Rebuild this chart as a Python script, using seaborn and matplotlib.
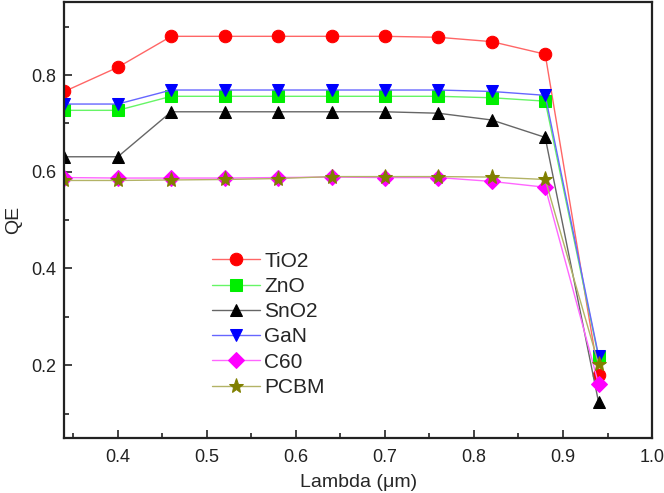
import numpy as np
import pandas as pd
import matplotlib
matplotlib.use('Agg')
import matplotlib.pyplot as plt
import matplotlib.colors as mcolors
import seaborn as sns
from matplotlib.ticker import MultipleLocator

sns.set_style('ticks')
plt.rcParams['font.family'] = ['Liberation Sans', 'DejaVu Sans']

# wavelength points (um)
wavelength = [0.34, 0.40, 0.46, 0.52, 0.58, 0.64, 0.70, 0.76, 0.82, 0.88, 0.94]

tio2 = [0.766, 0.816, 0.880, 0.880, 0.880, 0.880, 0.880, 0.878, 0.869, 0.843, 0.179]
zno = [0.727, 0.727, 0.756, 0.756, 0.756, 0.756, 0.756, 0.756, 0.753, 0.746, 0.216]
sno2 = [0.631, 0.631, 0.724, 0.724, 0.724, 0.724, 0.724, 0.721, 0.707, 0.671, 0.123]
gan = [0.740, 0.740, 0.769, 0.769, 0.769, 0.769, 0.769, 0.769, 0.766, 0.758, 0.219]
c60 = [0.588, 0.587, 0.587, 0.587, 0.588, 0.589, 0.588, 0.588, 0.580, 0.568, 0.161]
pcbm = [0.582, 0.582, 0.583, 0.584, 0.586, 0.590, 0.590, 0.590, 0.589, 0.584, 0.202]

materials = ['TiO2', 'ZnO', 'SnO2', 'GaN', 'C60', 'PCBM']
series = [tio2, zno, sno2, gan, c60, pcbm]
colors = ['#ff0000', '#00ee00', '#000000', '#0000ff', '#ff00ff', '#808000']
markers = ['o', 's', '^', 'v', 'D', '*']
sizes = [9, 8, 9, 9, 8, 11]


def lighten(c, amount=0.4):
    # blend colour with white so the connecting lines look pale like the original
    r, g, b = mcolors.to_rgb(c)
    return (r + (1 - r) * amount, g + (1 - g) * amount, b + (1 - b) * amount)


fig = plt.figure(figsize=(6.64, 4.93), dpi=100)
ax = fig.add_axes([0.097, 0.112, 0.885, 0.883])

for name, vals, c, m, s in zip(materials, series, colors, markers, sizes):
    df = pd.DataFrame({'Lambda': wavelength, 'QE': vals})
    sns.lineplot(data=df, x='Lambda', y='QE', ax=ax, color=c, marker=m,
                 markersize=s, markeredgecolor=c, linewidth=1, label=name)
    ln = ax.lines[-1]
    ln.set_color(lighten(c))
    ln.set_markerfacecolor(c)
    ln.set_markeredgecolor(c)
    ln.set_linewidth(1.0)

ax.set_xlim(0.34, 1.0)
ax.set_ylim(0.05, 0.95)
ax.xaxis.set_major_locator(MultipleLocator(0.1))
ax.xaxis.set_minor_locator(MultipleLocator(0.05))
ax.yaxis.set_major_locator(MultipleLocator(0.2))
ax.yaxis.set_minor_locator(MultipleLocator(0.1))
ax.tick_params(which='both', direction='in', top=False, right=False,
               labelsize=13, width=1.2, colors='#222222')
ax.tick_params(axis='x', which='major', length=6, pad=8)
ax.tick_params(axis='y', which='major', length=6, pad=6)
ax.tick_params(which='minor', length=3.5)
for side in ['left', 'bottom', 'right', 'top']:
    ax.spines[side].set_visible(True)
    ax.spines[side].set_linewidth(1.6)
    ax.spines[side].set_color('#222222')
    ax.spines[side].set_zorder(5)

ax.set_xlabel('Lambda (μm)', fontsize=14, labelpad=6)
ax.set_ylabel('QE', fontsize=14, labelpad=6)

ax.legend(loc='lower left', bbox_to_anchor=(0.237, 0.075), frameon=False,
          fontsize=15, handlelength=2.3, labelspacing=0.3, handletextpad=0.2,
          borderaxespad=0)

fig.savefig('out.png', dpi=100)
